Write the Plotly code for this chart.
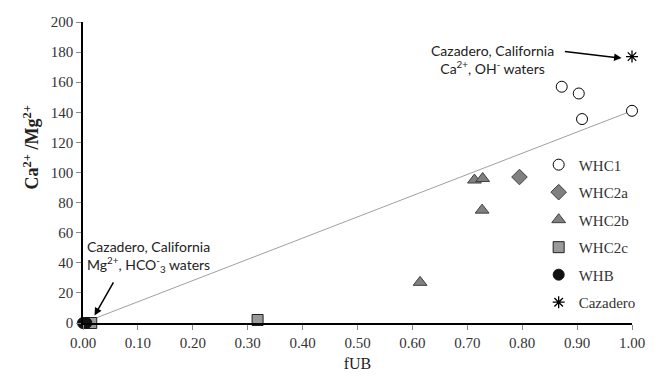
import plotly.graph_objects as go

# ---- data ----
whc1_x = [0.872, 0.903, 0.909, 1.0]
whc1_y = [157, 152.5, 135.5, 141]
whc2a_x = [0.795]
whc2a_y = [97]
whc2b_x = [0.713, 0.728, 0.727, 0.614]
whc2b_y = [95, 96, 75, 27]
whc2c_x = [0.015, 0.318]
whc2c_y = [0, 2]
whb_x = [0.0, 0.006]
whb_y = [0, 0]
caz_x = [1.0]
caz_y = [177]
trend_x = [0.0, 1.0]
trend_y = [0.0, 141]

x_ticks = [0, 0.1, 0.2, 0.3, 0.4, 0.5, 0.6, 0.7, 0.8, 0.9, 1.0]
y_ticks = [0, 20, 40, 60, 80, 100, 120, 140, 160, 180, 200]

SERIF = "Liberation Serif, Times New Roman, serif"
SANS = "Lato, sans-serif"

fig = go.Figure()
fig.add_trace(go.Scatter(x=trend_x, y=trend_y, mode="lines",
                         line=dict(color="#a0a0a0", width=1), showlegend=False,
                         hoverinfo="skip"))

def add(name, xs, ys, symbol, fill, size, lw=1, lc="#000"):
    fig.add_trace(go.Scatter(
        x=xs, y=ys, mode="markers", name=name, legendgroup=name,
        cliponaxis=False,
        marker=dict(symbol=symbol, size=size, color=fill,
                    line=dict(color=lc, width=lw))))

add("WHC1", whc1_x, whc1_y, "circle", "white", 11)
add("WHC2a", whc2a_x, whc2a_y, "diamond", "#808080", 12, 1, "#404040")
add("WHC2b", whc2b_x, whc2b_y, "triangle-up", "#808080", 12, 1, "#404040")
add("WHC2c", whc2c_x, whc2c_y, "square", "#9a9a9a", 11, 1, "#202020")
add("WHB", whb_x, whb_y, "circle", "#111", 11, 1, "#111")
add("Cazadero", caz_x, caz_y, "asterisk-open", "#000", 10, 1.3, "#000")

ann_font = dict(family=SANS, size=14, color="#222")
annotations = [
    dict(x=0.745, y=175, xref="x", yref="y", showarrow=False,
         text="Cazadero, California<br>Ca<sup>2+</sup>, OH<sup>-</sup> waters",
         font=ann_font, align="center"),
    dict(x=0.981, y=176, ax=0.875, ay=180.5, xref="x", yref="y",
         axref="x", ayref="y", text="", showarrow=True,
         arrowhead=2, arrowsize=1, arrowwidth=1.5, arrowcolor="#000"),
    dict(x=0.12, y=44, xref="x", yref="y", showarrow=False,
         text="Cazadero, California<br>Mg<sup>2+</sup>, HCO<sup>-</sup><sub>3</sub> waters",
         font=ann_font, align="center"),
    dict(x=0.021, y=5, ax=0.057, ay=28, xref="x", yref="y",
         axref="x", ayref="y", text="", showarrow=True,
         arrowhead=2, arrowsize=1, arrowwidth=1.5, arrowcolor="#000"),
    dict(x=-0.118, y=0.582, xref="paper", yref="paper", showarrow=False,
         text="<b>Ca<sup>2+</sup> /Mg<sup>2+</sup></b>", textangle=-90,
         font=dict(family=SERIF, size=18, color="#222")),
]

tickfont = dict(family=SERIF, size=15, color="#333")

fig.update_layout(
    width=660, height=382,
    margin=dict(l=83, r=28, t=22, b=54),
    paper_bgcolor="white", plot_bgcolor="white",
    font=dict(family=SERIF, size=15, color="#333"),
    showlegend=True,
    legend=dict(x=0.83, y=0.58, xanchor="left", yanchor="top",
                font=dict(family=SERIF, size=15, color="#333"),
                tracegroupgap=5, bgcolor="rgba(0,0,0,0)"),
    annotations=annotations,
    xaxis=dict(range=[0, 1], tickvals=x_ticks, tickformat=".2f",
               tickfont=tickfont,
               showgrid=False, zeroline=False, showline=True,
               linecolor="#000", linewidth=1.5, ticks="outside",
               ticklen=5, tickcolor="#888",
               title=dict(text="fUB", font=dict(family=SERIF, size=16, color="#222"),
                          standoff=8)),
    yaxis=dict(range=[0, 200], tickvals=y_ticks, tickfont=tickfont,
               showgrid=False, zeroline=False, showline=True,
               linecolor="#000", linewidth=1.5, ticks="outside",
               ticklen=5, tickcolor="#888"),
)

fig.write_html("out.html")
